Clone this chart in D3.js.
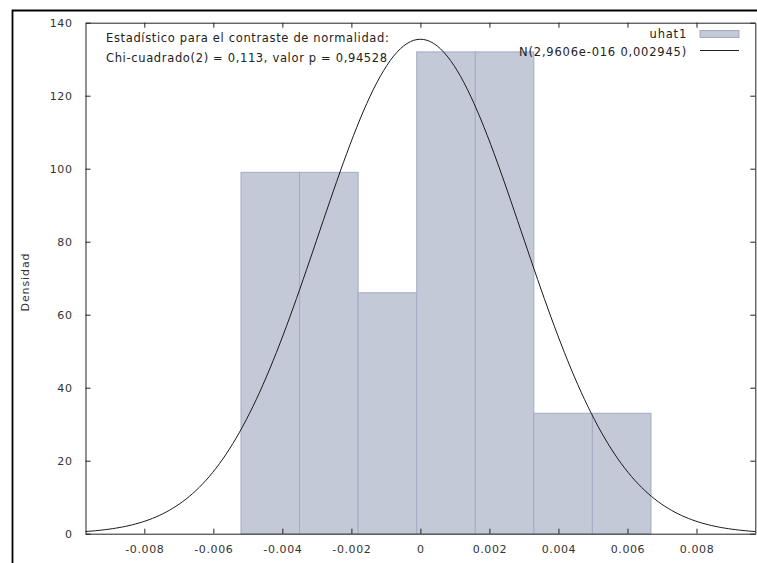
<!DOCTYPE html>
<html><head><meta charset="utf-8">
<script src="https://cdn.jsdelivr.net/npm/d3@7"></script>
<style>
html,body{margin:0;padding:0;background:#fff;}
svg{display:block;font-family:"DejaVu Sans",Verdana,sans-serif;}
</style></head>
<body>
<svg id="c" width="757" height="563"></svg>
<script>
// ---- data ----
const binEdges = [-0.005198, -0.003501, -0.001804, -0.000107, 0.001590, 0.003287, 0.004984, 0.006681];
const densities = [99, 99, 66, 132, 132, 33, 33];
const xTicks = [-0.008, -0.006, -0.004, -0.002, 0, 0.002, 0.004, 0.006, 0.008];
const xTickLabels = ["-0.008", "-0.006", "-0.004", "-0.002", "0", "0.002", "0.004", "0.006", "0.008"];
const yTicks = [0, 20, 40, 60, 80, 100, 120, 140];
const normalMean = 2.9606e-16;
const normalSd = 0.002945;
const xDomain = [-0.009704, 0.009704];
const yDomain = [0, 140];
const seriesName = "uhat1";
const curveName = "N(2,9606e-016 0,002945)";
const noteLines = ["Estadístico para el contraste de normalidad:", "Chi-cuadrado(2) = 0,113, valor p = 0,94528"];
const yLabel = "Densidad";

// ---- layout ----
const L = 85.5, R = 755.3, T = 22.7, B = 533.7;
const svg = d3.select("#c");
const x = d3.scaleLinear().domain(xDomain).range([L, R]);
const y = d3.scaleLinear().domain(yDomain).range([B, T]);

// outer frame
svg.append("path").attr("d", `M12.5,570 L12.5,10.5 L770,10.5`)
  .attr("fill", "none").attr("stroke", "#000").attr("stroke-width", 1.8);

// bars
const bins = densities.map((d, i) => ({x0: binEdges[i], x1: binEdges[i+1], d}));
svg.append("g").selectAll("rect").data(bins).join("rect")
  .attr("x", d => x(d.x0)).attr("width", d => x(d.x1) - x(d.x0))
  .attr("y", d => y(d.d)).attr("height", d => y(0) - y(d.d))
  .attr("fill", "#c4c9d8").attr("stroke", "#a3abc3").attr("stroke-width", 1);

// normal curve (density of N(mean, sd) from the legend)
const nSamp = 200;
const curvePts = d3.range(nSamp + 1).map(i => {
  const xv = xDomain[0] + (xDomain[1] - xDomain[0]) * i / nSamp;
  const z = (xv - normalMean) / normalSd;
  return [xv, Math.exp(-0.5 * z * z) / (normalSd * Math.sqrt(2 * Math.PI))];
});
svg.append("path").datum(curvePts)
  .attr("d", d3.line().x(d => x(d[0])).y(d => y(d[1])))
  .attr("fill", "none").attr("stroke", "#1a1a1a").attr("stroke-width", 1);

// axes frame with inward ticks
const tick = 5;
const axB = svg.append("g").attr("transform", `translate(0,${B})`)
  .call(d3.axisBottom(x).tickValues(xTicks).tickSizeInner(-tick).tickSizeOuter(0).tickPadding(12)
    .tickFormat((d, i) => xTickLabels[i]));
const axT = svg.append("g").attr("transform", `translate(0,${T})`)
  .call(d3.axisTop(x).tickValues(xTicks).tickSizeInner(-tick).tickSizeOuter(0).tickFormat(""));
const axL = svg.append("g").attr("transform", `translate(${L},0)`)
  .call(d3.axisLeft(y).tickValues(yTicks).tickSizeInner(-tick).tickSizeOuter(0).tickPadding(13));
const axR = svg.append("g").attr("transform", `translate(${R},0)`)
  .call(d3.axisRight(y).tickValues(yTicks).tickSizeInner(-tick).tickSizeOuter(0).tickFormat(""));
[axB, axT, axL, axR].forEach(a => {
  a.selectAll("path.domain").attr("stroke", "#222").attr("stroke-width", 1);
  a.selectAll("line").attr("stroke", "#222");
  a.selectAll("text").attr("font-size", 11).attr("fill", "#333")
    .attr("font-family", "DejaVu Sans, Verdana, sans-serif").attr("letter-spacing", "0.6px");
});

// y label
svg.append("text").attr("transform", "translate(29,282) rotate(-90)")
  .attr("text-anchor", "middle").attr("font-size", 11).attr("letter-spacing", "0.9px")
  .attr("fill", "#333").text(yLabel);

// annotation
noteLines.forEach((t, i) => {
  svg.append("text").attr("x", 106).attr("y", 42 + i * 20)
    .attr("font-size", 11.5).attr("letter-spacing", "0.65px").attr("fill", "#222").text(t);
});

// legend
svg.append("text").attr("x", 687).attr("y", 38).attr("text-anchor", "end")
  .attr("font-size", 11.5).attr("letter-spacing", "0.8px").attr("fill", "#222").text(seriesName);
svg.append("rect").attr("x", 700).attr("y", 30.5).attr("width", 39).attr("height", 7)
  .attr("fill", "#c4c9d8").attr("stroke", "#a3abc3");
svg.append("text").attr("x", 687).attr("y", 56).attr("text-anchor", "end")
  .attr("font-size", 11.5).attr("letter-spacing", "0.8px").attr("fill", "#222").text(curveName);
svg.append("line").attr("x1", 700).attr("x2", 739).attr("y1", 50.5).attr("y2", 50.5)
  .attr("stroke", "#222").attr("stroke-width", 1.2);
</script>
</body></html>
